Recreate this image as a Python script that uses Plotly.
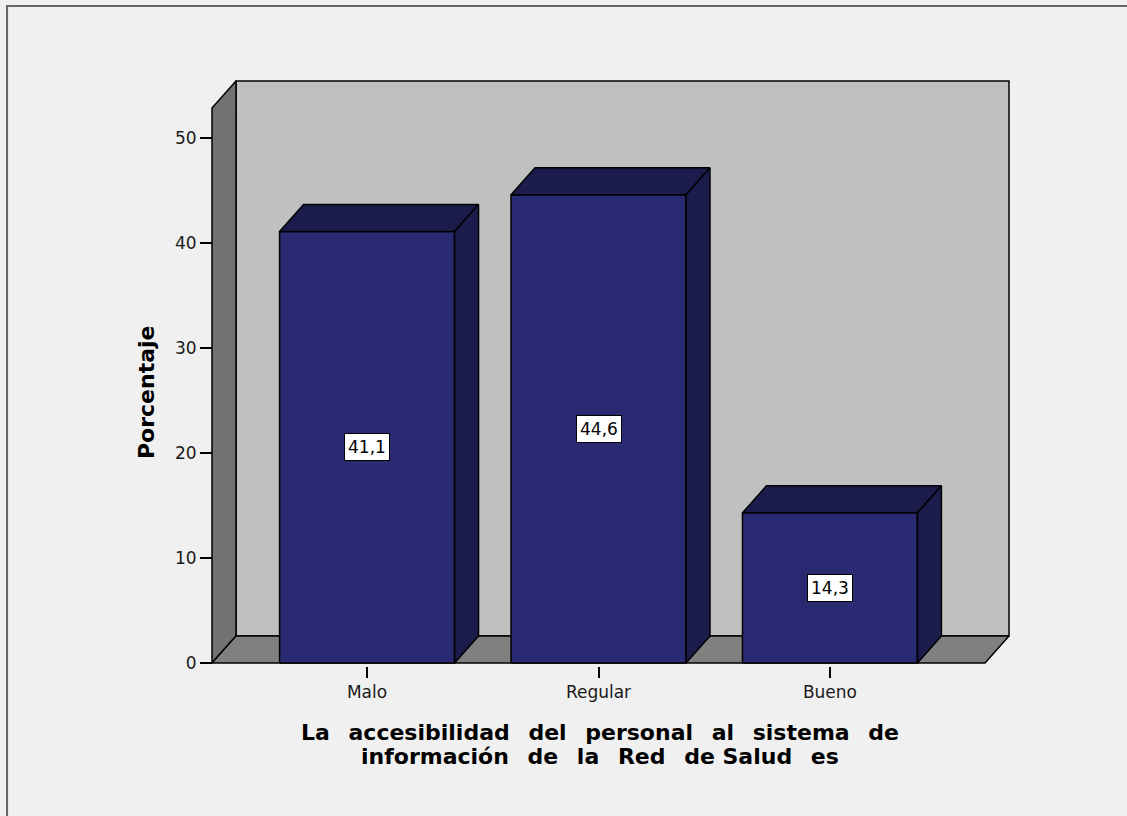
import plotly.graph_objects as go

# ---------------- data ----------------
categories = ["Malo", "Regular", "Bueno"]
percentages = [41.1, 44.6, 14.3]
value_labels = ["41,1", "44,6", "14,3"]
y_tick_values = [0, 10, 20, 30, 40, 50]
y_tick_labels = ["0", "10", "20", "30", "40", "50"]
y_title = "Porcentaje"
GAP = "\u00a0\u2002"
x_title_line1 = GAP.join(["La", "accesibilidad", "del", "personal", "al", "sistema", "de"])
x_title_line2 = GAP.join(["información", "de", "la", "Red", "de\u00a0Salud", "es"])

# ---------------- layout constants ----------------
W, H = 1127, 816
PX_X = 231.5          # pixels per category unit
PX_Y = 10.5           # pixels per percent
BAR_W = 0.756         # bar width in category units
DX = 24 / PX_X        # 3D depth offset (x)
DY = 27 / PX_Y        # 3D depth offset (y)
X_LEFT = -0.67
X_RIGHT = 2.67
Y_WALL = 52.86
PAD_L, PAD_R, PAD_B, PAD_T = 5, 5, 3, 4   # pixels of slack around the box

x_r0 = X_LEFT - PAD_L / PX_X
x_r1 = X_RIGHT + DX + PAD_R / PX_X
y_r0 = -PAD_B / PX_Y
y_r1 = Y_WALL + DY + PAD_T / PX_Y

plot_w = (x_r1 - x_r0) * PX_X
plot_h = (y_r1 - y_r0) * PX_Y
m_l = 212 - PAD_L
m_b = H - 663 - PAD_B
m_t = H - m_b - plot_h
m_r = W - m_l - plot_w


def px_x(px):
    return (px - m_l) / plot_w


def px_y(py):
    return (H - m_b - py) / plot_h


BG = "#f0f0f0"
BACK = "#c0c0c0"
LEFTWALL = "#727272"
FLOOR = "#808080"
FRONT = "#292a72"
DARK = "#1b1c4c"
EDGE = "#000000"
FONT = "DejaVu Sans"

fig = go.Figure()


def poly(xs, ys, fill, width=1.5):
    fig.add_trace(go.Scatter(
        x=xs + [xs[0]], y=ys + [ys[0]], mode="lines", fill="toself",
        fillcolor=fill, line=dict(color=EDGE, width=width),
        hoverinfo="skip", showlegend=False))


# back wall
poly([X_LEFT + DX, X_RIGHT + DX, X_RIGHT + DX, X_LEFT + DX],
     [DY, DY, Y_WALL + DY, Y_WALL + DY], BACK)
# left wall
poly([X_LEFT, X_LEFT + DX, X_LEFT + DX, X_LEFT],
     [0, DY, Y_WALL + DY, Y_WALL], LEFTWALL)
# floor
poly([X_LEFT, X_RIGHT, X_RIGHT + DX, X_LEFT + DX],
     [0, 0, DY, DY], FLOOR)

# bars
for i, v in enumerate(percentages):
    x0, x1 = i - BAR_W / 2, i + BAR_W / 2
    poly([x0, x1, x1, x0], [0, 0, v, v], FRONT)
    poly([x0, x0 + DX, x1 + DX, x1], [v, v + DY, v + DY, v], DARK)
    poly([x1, x1 + DX, x1 + DX, x1], [0, DY, v + DY, v], DARK)

annotations = []
for i, (v, lab) in enumerate(zip(percentages, value_labels)):
    annotations.append(dict(
        x=i, y=v / 2, xref="x", yref="y", text=lab, showarrow=False,
        xanchor="center", yanchor="middle",
        font=dict(family=FONT, size=17, color="#000000"),
        bgcolor="#ffffff", bordercolor="#000000", borderwidth=1, borderpad=3))

# axis titles
annotations.append(dict(
    x=px_x(146), y=px_y(392), xref="paper", yref="paper",
    xanchor="center", yanchor="middle",
    text="<b>" + y_title + "</b>", textangle=-90, showarrow=False,
    font=dict(family=FONT, size=22, color="#000000")))
annotations.append(dict(
    x=px_x(600), y=px_y(733), xref="paper", yref="paper",
    xanchor="center", yanchor="middle",
    text="<b>" + x_title_line1 + "</b>", showarrow=False,
    font=dict(family=FONT, size=22, color="#000000")))
annotations.append(dict(
    x=px_x(600), y=px_y(757), xref="paper", yref="paper",
    xanchor="center", yanchor="middle",
    text="<b>" + x_title_line2 + "</b>", showarrow=False,
    font=dict(family=FONT, size=22, color="#000000")))

# outer frame (left and top edges)
shapes = [dict(type="path", xref="paper", yref="paper",
               path="M {a},{b} L {a},{c} L {d},{c}".format(
                   a=px_x(7), b=px_y(H + 5), c=px_y(6), d=px_x(W + 5)),
               line=dict(color="#666666", width=2))]

fig.update_layout(
    width=W, height=H,
    margin=dict(l=m_l, r=m_r, t=m_t, b=m_b, pad=0),
    paper_bgcolor=BG, plot_bgcolor=BG,
    xaxis=dict(range=[x_r0, x_r1], tickvals=list(range(len(categories))),
               ticktext=categories, ticks="outside", ticklen=11, tickwidth=1.5,
               tickcolor="#000000", showgrid=False, zeroline=False,
               showline=False, fixedrange=True,
               tickfont=dict(family=FONT, size=17, color="#1a1a1a")),
    yaxis=dict(range=[y_r0, y_r1], tickvals=y_tick_values,
               ticktext=y_tick_labels, ticks="outside", ticklen=12,
               tickwidth=1.5, tickcolor="#000000", showgrid=False,
               zeroline=False, showline=False, fixedrange=True,
               anchor="free", position=(X_LEFT - x_r0) / (x_r1 - x_r0),
               tickfont=dict(family=FONT, size=17, color="#1a1a1a")),
    annotations=annotations, shapes=shapes, showlegend=False,
)

fig.write_html("out.html", config={"displayModeBar": False},
               post_script="document.body.style.margin='0';"
                           "document.body.style.overflow='hidden';")
